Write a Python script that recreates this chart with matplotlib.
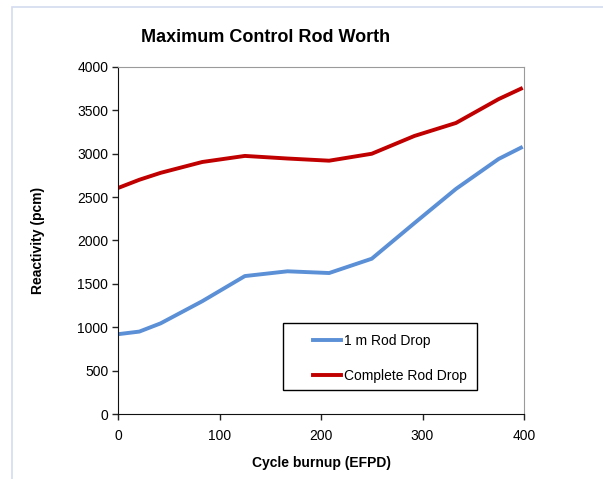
import matplotlib.pyplot as plt
from matplotlib.patches import Rectangle

plt.rcParams['font.family'] = ['Liberation Sans', 'DejaVu Sans']

# burnup points (EFPD) and rod worth (pcm)
burnup = [0, 21, 42, 83, 125, 167, 208, 250, 292, 333, 375, 397]
rod_drop_1m = [920, 950, 1045, 1300, 1590, 1645, 1625, 1790, 2200, 2595, 2940, 3070]
rod_drop_full = [2605, 2700, 2780, 2905, 2975, 2945, 2920, 3000, 3205, 3355, 3630, 3750]

x_ticks = [0, 100, 200, 300, 400]
y_ticks = [0, 500, 1000, 1500, 2000, 2500, 3000, 3500, 4000]

fig = plt.figure(figsize=(6.03, 4.79), dpi=100)
ax = fig.add_axes([118 / 603, 1 - 414 / 479, 406 / 603, 347 / 479])

# light frame around the chart area
fig.patches.append(Rectangle((12 / 603, -0.1), 1.2, 1.1 - 7 / 479,
                             transform=fig.transFigure, fill=False,
                             edgecolor='#d3dcee', linewidth=1.2))

ax.plot(burnup, rod_drop_1m, color='#5b8fd6', linewidth=2.8, label='1 m Rod Drop',
        solid_joinstyle='round')
ax.plot(burnup, rod_drop_full, color='#c00000', linewidth=2.8, label='Complete Rod Drop',
        solid_joinstyle='round')

ax.set_xlim(0, 400)
ax.set_ylim(0, 4000)
ax.set_xticks(x_ticks)
ax.set_yticks(y_ticks)
ax.tick_params(direction='out', length=4, width=1, labelsize=10, pad=3, color='#222222')
ax.tick_params(axis='x', pad=7)

for side in ['top', 'right']:
    ax.spines[side].set_color('#9a9a9a')
for side in ['left', 'bottom']:
    ax.spines[side].set_color('#111111')

fig.text(266 / 603, 1 - 37 / 479, 'Maximum Control Rod Worth', ha='center', va='center',
         fontsize=13, fontweight='bold')
ax.set_xlabel('Cycle burnup (EFPD)', fontsize=10, fontweight='bold', labelpad=9)
ax.set_ylabel('Reactivity (pcm)', fontsize=10, fontweight='bold', labelpad=23)

# legend box drawn separately so the entries can sit inside with Excel-like padding
fig.patches.append(Rectangle((283 / 603, 1 - 390 / 479), 194 / 603, 67 / 479,
                             transform=fig.transFigure, fill=False,
                             edgecolor='black', linewidth=1.0, zorder=5))
leg = ax.legend(loc='upper left', bbox_to_anchor=(313 / 603, 1 - 334 / 479),
                bbox_transform=fig.transFigure, fontsize=10, frameon=False,
                borderpad=0, labelspacing=1.5, handlelength=2.0, handletextpad=0.2,
                borderaxespad=0)

fig.savefig('out.png', dpi=100)
